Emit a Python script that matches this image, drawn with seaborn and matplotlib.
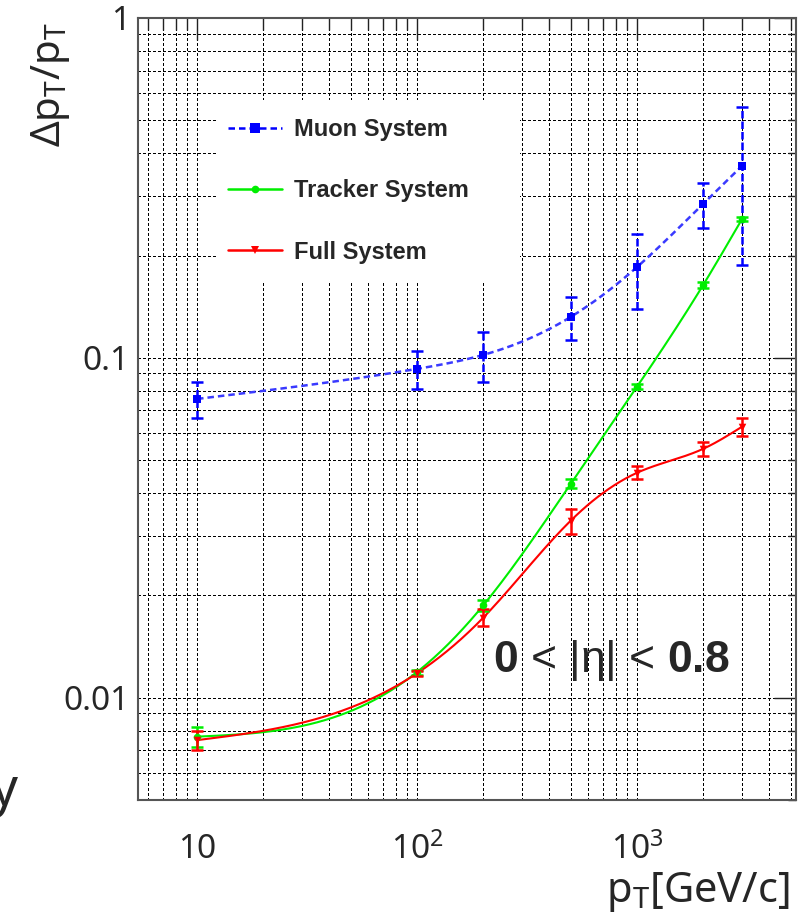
import numpy as np
import pandas as pd
import matplotlib
matplotlib.use("Agg")
import matplotlib.pyplot as plt
from matplotlib.lines import Line2D
from matplotlib.patches import Rectangle
from matplotlib.ticker import LogLocator, NullFormatter
import seaborn as sns

# Transverse momentum points (GeV/c)
pt_gev = [10, 100, 200, 500, 1000, 2000, 3000]

# Relative momentum resolution per subsystem, with uncertainties
muon_res = [0.0757, 0.0928, 0.102, 0.132, 0.185, 0.284, 0.367]
muon_err = [0.009, 0.012, 0.017, 0.019, 0.046, 0.043, 0.18]

tracker_res = [0.00768, 0.0119, 0.0187, 0.0426, 0.0822, 0.164, 0.256]
tracker_err = [0.0005, 0.0002, 0.0007, 0.0013, 0.0015, 0.003, 0.004]

full_res = [0.0075, 0.0118, 0.0172, 0.0332, 0.0459, 0.054, 0.0627]
full_err = [0.0005, 0.0002, 0.001, 0.0028, 0.002, 0.0025, 0.004]

series_names = ["Muon System", "Tracker System", "Full System"]

x_ticks = [10, 100, 1000]
x_tick_labels = ["10", r"$\mathregular{10^{2}}$", r"$\mathregular{10^{3}}$"]
y_ticks = [0.01, 0.1, 1]
y_tick_labels = ["0.01", "0.1", "1"]

sns.set_style("white")
plt.rcParams["font.family"] = ["Noto Sans", "DejaVu Sans"]
plt.rcParams["mathtext.fontset"] = "custom"
plt.rcParams["mathtext.rm"] = "Liberation Sans"
plt.rcParams["mathtext.bf"] = "Liberation Sans:bold"
plt.rcParams["mathtext.it"] = "Liberation Sans:italic"


def smooth_loglog(x, y, n=300):
    """Natural cubic spline through the points in log-log space (for the drawn curve)."""
    lx, ly = np.log10(np.asarray(x, float)), np.log10(np.asarray(y, float))
    h = np.diff(lx)
    k = len(lx)
    A = np.zeros((k, k))
    b = np.zeros(k)
    A[0, 0] = A[-1, -1] = 1.0
    for i in range(1, k - 1):
        A[i, i - 1] = h[i - 1]
        A[i, i] = 2 * (h[i - 1] + h[i])
        A[i, i + 1] = h[i]
        b[i] = 6 * ((ly[i + 1] - ly[i]) / h[i] - (ly[i] - ly[i - 1]) / h[i - 1])
    M = np.linalg.solve(A, b)
    t = np.linspace(lx[0], lx[-1], n)
    idx = np.clip(np.searchsorted(lx, t) - 1, 0, k - 2)
    x0, x1 = lx[idx], lx[idx + 1]
    hh = x1 - x0
    a = (x1 - t) / hh
    c = (t - x0) / hh
    s = a * ly[idx] + c * ly[idx + 1] + ((a**3 - a) * M[idx] + (c**3 - c) * M[idx + 1]) * hh**2 / 6
    return 10**t, 10**s


W, H = 801, 919
fig = plt.figure(figsize=(W / 100, H / 100), dpi=100)
ax = fig.add_axes([138 / W, 1 - 800 / H, 658 / W, 782 / H])
ax.set_xscale("log")
ax.set_yscale("log")

points = pd.DataFrame({"pt": pt_gev, "muon": muon_res, "tracker": tracker_res, "full": full_res})

BLUE, GREEN, RED = "#0000ff", "#00ee00", "#ff0000"
muon_dash = (0, (2.6, 1.6))

styles = [
    ("muon", muon_err, BLUE, "#3a3aff", muon_dash, "s", 40, 1.8),
    ("tracker", tracker_err, GREEN, GREEN, "-", "o", 30, 1.5),
    ("full", full_err, RED, RED, "-", "v", 30, 1.5),
]

for col, err, col_pt, col_line, ls, mk, ms, lw in styles:
    cx, cy = smooth_loglog(points["pt"], points[col])
    curve = pd.DataFrame({"pt": cx, "res": cy})
    sns.lineplot(data=curve, x="pt", y="res", ax=ax, color=col_line, lw=lw,
                 linestyle=ls, estimator=None, sort=False, legend=False, zorder=3)
    eb = ax.errorbar(points["pt"], points[col], yerr=err, fmt="none", ecolor=col_pt,
                     elinewidth=1.8, capsize=4.5, capthick=1.8, zorder=4)
    if col == "muon":
        eb[2][0].set_linestyle((0, (3.0, 1.2)))
    sns.scatterplot(data=points, x="pt", y=col, ax=ax, marker=mk, s=ms, color=col_pt,
                    linewidth=0, legend=False, zorder=5)

ax.set_xlim(5.39, 5280)
ax.set_ylim(0.005, 1)

ax.set_xticks(x_ticks, x_tick_labels)
ax.set_yticks(y_ticks, y_tick_labels)
ax.xaxis.set_minor_locator(LogLocator(base=10, subs=np.arange(2, 10)))
ax.yaxis.set_minor_locator(LogLocator(base=10, subs=np.arange(2, 10)))
ax.xaxis.set_minor_formatter(NullFormatter())
ax.yaxis.set_minor_formatter(NullFormatter())

ax.set_axisbelow(True)
ax.grid(True, which="both", color="black", linestyle=(0, (2.2, 2.2)), linewidth=0.75,
        antialiased=False)

ax.tick_params(which="both", direction="in", top=True, right=True, color="#222222", width=1.0)
ax.tick_params(axis="x", which="major", length=16, pad=42, labelsize=24)
ax.tick_params(axis="x", which="minor", length=8.5)
ax.tick_params(axis="y", which="major", length=16, pad=6, labelsize=24)
ax.tick_params(axis="y", which="minor", length=6)
for lab in ax.get_xticklabels():
    lab.set_verticalalignment("baseline")

for sp in ax.spines.values():
    sp.set_color("#555555")
    sp.set_linewidth(1.5)

ax.set_xlabel("")
ax.set_ylabel("")

# White legend panel over the grid
ax.add_patch(Rectangle((0.1185, 0.661), 0.462, 0.234, transform=ax.transAxes,
                       facecolor="white", edgecolor="none", zorder=1))

handles = [
    Line2D([], [], color=BLUE, linestyle=muon_dash, lw=1.8, marker="s", ms=6.5, mew=0),
    Line2D([], [], color=GREEN, linestyle="-", lw=1.8, marker="o", ms=5.5, mew=0),
    Line2D([], [], color=RED, linestyle="-", lw=1.8, marker="v", ms=5.5, mew=0),
]
ax.legend(handles, series_names, loc="upper left", bbox_to_anchor=(0.137, 0.872),
          frameon=False, borderaxespad=0, borderpad=0, handlelength=2.3,
          handletextpad=0.5, labelspacing=1.62,
          prop={"family": "Liberation Sans", "weight": "bold", "size": 17})

# Axis titles
fig.text(51 / W, 1 - 22 / H, r"Δp$_\mathregular{T}$/p$_\mathregular{T}$", rotation=90,
         ha="center", va="top", fontsize=29)
fig.text(790 / W, 1 - 902 / H, r"p$_\mathregular{T}$[GeV/c]", ha="right", va="baseline",
         fontsize=30)

# Pseudorapidity range
fig.text(493 / W, 1 - 672 / H, r"$\mathbf{0}$ < |η| < $\mathbf{0.8}$", ha="left",
         va="baseline", fontsize=32, family="Liberation Sans")

fig.text(18 / W, 1 - 805 / H, "y", ha="right", va="baseline", fontsize=38)

fig.savefig("out.png", dpi=100)
